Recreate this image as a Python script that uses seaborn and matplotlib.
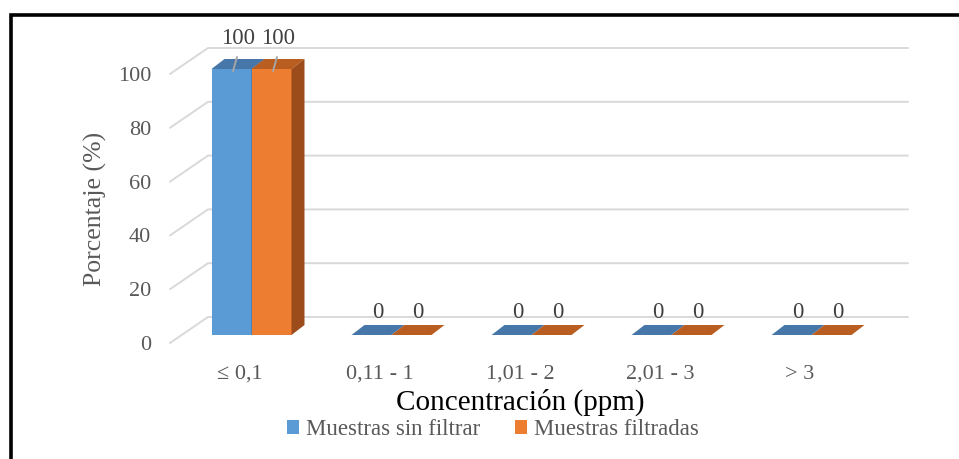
import numpy as np
import pandas as pd
import seaborn as sns
import matplotlib
matplotlib.use("Agg")
import matplotlib.pyplot as plt
from matplotlib.patches import Polygon, Patch, Rectangle
from matplotlib.lines import Line2D
from matplotlib.transforms import Affine2D

# ---------------- data ----------------
categories = ["≤ 0,1", "0,11 - 1", "1,01 - 2", "2,01 - 3", "> 3"]
sin_filtrar = [100, 0, 0, 0, 0]
filtradas = [100, 0, 0, 0, 0]
series = ["Muestras sin filtrar", "Muestras filtradas"]
y_ticks = [0, 20, 40, 60, 80, 100]

df = pd.DataFrame({
    "Concentración": categories * 2,
    "Porcentaje": sin_filtrar + filtradas,
    "Serie": [series[0]] * len(categories) + [series[1]] * len(categories),
})

# ---------------- style ----------------
BLUE, ORANGE = "#5B9BD5", "#ED7D31"
TOP = {BLUE: "#4777a8", ORANGE: "#b95d20"}
SIDE = {BLUE: "#3f6a96", ORANGE: "#9c4b1b"}
GRID = "#d9d9d9"
GRAYTXT = "#595959"

sns.set_theme(style="white")
plt.rcParams["font.family"] = ["Liberation Serif", "DejaVu Serif"]

W, H, DPI = 959, 459, 100
fig = plt.figure(figsize=(W / DPI, H / DPI), dpi=DPI)


def rect(x0, y0, x1, y1):
    return [x0 / W, 1 - y1 / H, (x1 - x0) / W, (y1 - y0) / H]


ax = fig.add_axes(rect(170, 74, 870, 343))

sns.barplot(data=df, x="Concentración", y="Porcentaje", hue="Serie",
            palette=[BLUE, ORANGE], saturation=1, width=80 / 140,
            errorbar=None, legend=False, linewidth=0, ax=ax)
ax.set_xlim(-0.5, len(categories) - 0.5)
ax.set_ylim(0, 100)
ax.set_yticks(y_ticks)
ax.grid(False)
for s in ax.spines.values():
    s.set_visible(False)

# 3D offsets in display pixels (x right, y up)
BAR_SHIFT = np.array([11.5, 8.0])
BAR_DEPTH = np.array([13.0, 10.0])
WALL_DEPTH = np.array([38.0, 26.0])
BAR_SCALE = 266 / 269  # slight perspective shrink of the bar plane

td = ax.transData
inv = td.inverted()
base_y = td.transform((0, 0))[1]
bar_plane = (Affine2D().translate(0, -base_y).scale(1, BAR_SCALE)
             .translate(BAR_SHIFT[0], base_y + BAR_SHIFT[1]))
bar_tr = td + bar_plane


def D(pts):
    return inv.transform(np.asarray(pts))


# back wall gridlines with side diagonal
x_lo, x_hi = ax.get_xlim()
for v in y_ticks:
    f = td.transform((x_lo, v))
    b0 = f + WALL_DEPTH
    b1 = td.transform((x_hi, v)) + WALL_DEPTH
    pts = D([f, b0, b1])
    ax.add_line(Line2D(pts[:, 0], pts[:, 1], color=GRID, lw=1.4,
                       clip_on=False, zorder=0.5))

vmax = max(sin_filtrar + filtradas)
bars = list(ax.patches)
for p in bars:
    x0, w, h = p.get_x(), p.get_width(), p.get_height()
    fc = matplotlib.colors.to_hex(p.get_facecolor())
    fc = BLUE if fc.lower() == BLUE.lower() else ORANGE
    z = 2 if fc == BLUE else 3
    p.set_transform(bar_tr)
    p.set_clip_on(False)
    p.set_zorder(z)
    B = bar_tr.transform((x0 + w, 0))
    C = bar_tr.transform((x0 + w, h))
    Dp = bar_tr.transform((x0, h))
    top = D([Dp, C, C + BAR_DEPTH, Dp + BAR_DEPTH])
    ax.add_patch(Polygon(top, closed=True, fc=TOP[fc], ec="none",
                         clip_on=False, zorder=z))
    if h > 0:
        side = D([B, C, C + BAR_DEPTH, B + BAR_DEPTH])
        ax.add_patch(Polygon(side, closed=True, fc=SIDE[fc], ec="none",
                             clip_on=False, zorder=z))
    # data label
    c = (Dp + C) / 2 + BAR_DEPTH / 2
    if h >= vmax:
        lab = c + np.array([0, 26])
        l = D([c + np.array([-5, -7]), c + np.array([-1, 7])])
        ax.add_line(Line2D(l[:, 0], l[:, 1], color="#a6a6a6", lw=1.4,
                           clip_on=False, zorder=4))
    else:
        lab = c + np.array([0, 17])
    lx, ly = D([lab])[0]
    ax.text(lx, ly, f"{h:g}", ha="center", va="center", fontsize=16.5,
            color="#404040", clip_on=False, zorder=5)

ax.tick_params(axis="y", length=0, pad=13.5, labelsize=16,
               labelcolor=GRAYTXT)
ax.tick_params(axis="x", length=0, pad=15.5, labelsize=16,
               labelcolor=GRAYTXT)
ax.set_ylabel("Porcentaje (%)", fontsize=18.5, color=GRAYTXT, labelpad=8)
ax.set_xlabel("Concentración (ppm)", fontsize=21, color="black", labelpad=3.5)

handles = [Patch(facecolor=BLUE, edgecolor="none", label=series[0]),
           Patch(facecolor=ORANGE, edgecolor="none", label=series[1])]
fig.legend(handles=handles, loc="center", bbox_to_anchor=(493 / W, 1 - 429.5 / H),
           ncol=2, frameon=False, fontsize=16.5, handlelength=0.52,
           handleheight=0.52, handletextpad=0.3, columnspacing=1.5,
           labelcolor=GRAYTXT)

# outer frame (cut off at right / bottom as in the reference)
fig.patches.append(Rectangle((11 / W, -0.2), 2.0, (1 - 15 / H) + 0.2,
                             transform=fig.transFigure, fill=False,
                             ec="black", lw=2.6, zorder=10))

fig.savefig("out.png", dpi=DPI)
